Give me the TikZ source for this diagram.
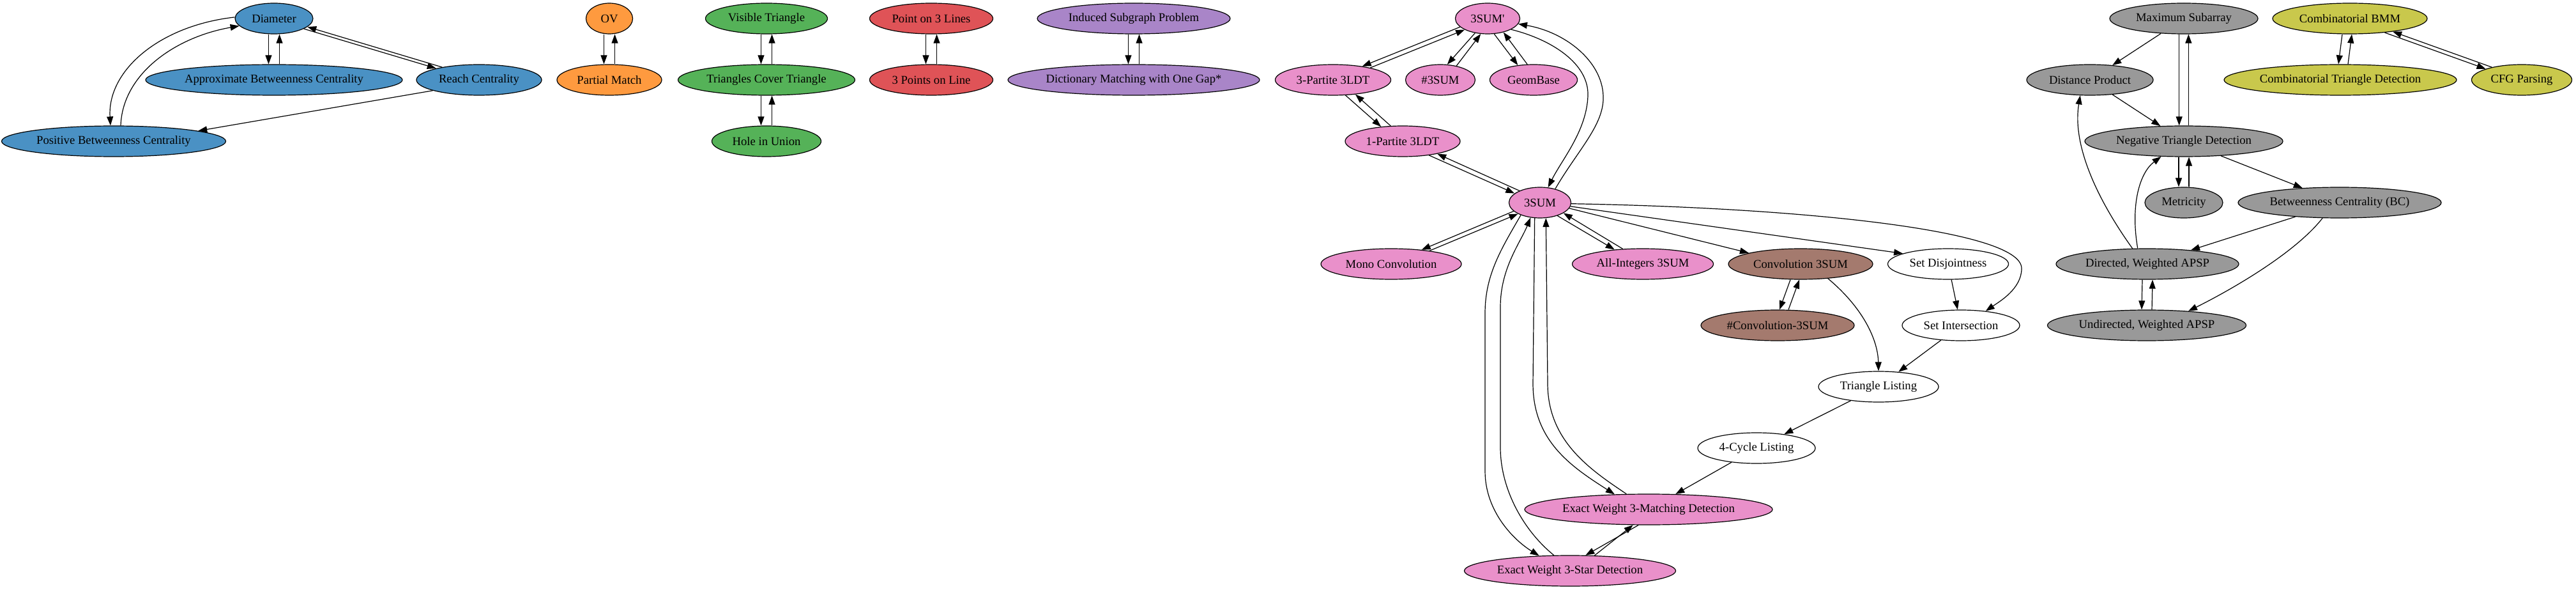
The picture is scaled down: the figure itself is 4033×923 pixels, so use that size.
\documentclass[tikz,border=0pt]{standalone}
\usepackage{fontspec}
\newfontfamily\gvf{Liberation Serif}
\usetikzlibrary{arrows.meta,shapes.geometric}
\definecolor{cblue}{HTML}{4A91C4}
\definecolor{corange}{HTML}{FE9A3F}
\definecolor{cgreen}{HTML}{55B258}
\definecolor{cred}{HTML}{DF5357}
\definecolor{cpurple}{HTML}{A985C8}
\definecolor{cpink}{HTML}{E990CA}
\definecolor{cbrown}{HTML}{A47A6E}
\definecolor{cgray}{HTML}{999999}
\definecolor{cyellow}{HTML}{C9C84C}
\begin{document}
\begin{tikzpicture}[x=0.75pt,y=-0.75pt,
  gv/.style={ellipse, draw=black, line width=0.9pt, minimum height=36pt, inner sep=0pt,
             minimum width=#1, font=\gvf\fontsize{14pt}{17pt}\selectfont},
  edge/.style={draw=black, line width=0.9pt, -{Triangle[length=10.5pt,width=7.5pt]}}]
\useasboundingbox (0,0) rectangle (4033,923);

% ---------- blue ----------
\node[gv=91.5pt,  fill=cblue] (dia)   at (429,29)  {Diameter};
\node[gv=301.5pt, fill=cblue] (abc)   at (429,125) {Approximate Betweenness Centrality};
\node[gv=147pt,   fill=cblue] (reach) at (750,125) {Reach Centrality};
\node[gv=263.25pt,fill=cblue] (pbc)   at (178,221) {Positive Betweenness Centrality};
% ---------- orange ----------
\node[gv=54.75pt, fill=corange] (ov) at (954,29)  {OV};
\node[gv=123pt,   fill=corange] (pm) at (954,125) {Partial Match};
% ---------- green ----------
\node[gv=143.25pt,fill=cgreen] (vt)  at (1200,29)  {Visible Triangle};
\node[gv=207.75pt,fill=cgreen] (tct) at (1200,125) {Triangles Cover Triangle};
\node[gv=128.25pt,fill=cgreen] (hiu) at (1200,221) {Hole in Union};
% ---------- red ----------
\node[gv=144.75pt,fill=cred] (ptl) at (1458,29)  {Point on 3 Lines};
\node[gv=144.75pt,fill=cred] (tpl) at (1458,125) {3 Points on Line};
% ---------- purple ----------
\node[gv=226.5pt, fill=cpurple] (isp) at (1775,29)  {Induced Subgraph Problem};
\node[gv=295.5pt, fill=cpurple] (dm)  at (1775,125) {Dictionary Matching with One Gap*};
% ---------- pink ----------
\node[gv=75.75pt, fill=cpink] (s3p) at (2329,29)  {3SUM'};
\node[gv=135.75pt,fill=cpink] (tp)  at (2087,125) {3-Partite 3LDT};
\node[gv=81.75pt, fill=cpink] (ns)  at (2255,125) {\#3SUM};
\node[gv=102.75pt,fill=cpink] (gb)  at (2401,125) {GeomBase};
\node[gv=135pt,   fill=cpink] (op)  at (2196,221) {1-Partite 3LDT};
\node[gv=72.75pt, fill=cpink] (s3)  at (2411,317) {3SUM};
\node[gv=165pt,   fill=cpink] (mc)  at (2178,413) {Mono Convolution};
\node[gv=165.75pt,fill=cpink] (ai)  at (2572,413) {All-Integers 3SUM};
\node[gv=291pt,   fill=cpink] (em)  at (2581,797) {Exact Weight 3-Matching Detection};
\node[gv=248.25pt,fill=cpink] (es)  at (2458,893) {Exact Weight 3-Star Detection};
% ---------- brown ----------
\node[gv=169.5pt, fill=cbrown] (c3) at (2819,413) {Convolution 3SUM};
\node[gv=180pt,   fill=cbrown] (nc) at (2783,509) {\#Convolution-3SUM};
% ---------- white ----------
\node[gv=141.75pt,fill=white] (sd) at (3050,413) {Set Disjointness};
\node[gv=138pt,   fill=white] (si) at (3070,509) {Set Intersection};
\node[gv=141pt,   fill=white] (tl) at (2941,605) {Triangle Listing};
\node[gv=138pt,   fill=white] (cl) at (2750,701) {4-Cycle Listing};
% ---------- gray ----------
\node[gv=174pt,   fill=cgray] (ms)    at (3419,29)  {Maximum Subarray};
\node[gv=148.5pt, fill=cgray] (dp)    at (3272,125) {Distance Product};
\node[gv=232.5pt, fill=cgray] (ntd)   at (3419,221) {Negative Triangle Detection};
\node[gv=91.5pt,  fill=cgray] (met)   at (3419,317) {Metricity};
\node[gv=238.5pt, fill=cgray] (bc)    at (3663,317) {Betweenness Centrality (BC)};
\node[gv=214.5pt, fill=cgray] (dapsp) at (3362,413) {Directed, Weighted APSP};
\node[gv=233.25pt,fill=cgray] (uapsp) at (3361,509) {Undirected, Weighted APSP};
% ---------- yellow ----------
\node[gv=181.5pt, fill=cyellow] (bmm) at (3679,29)  {Combinatorial BMM};
\node[gv=273pt,   fill=cyellow] (ctd) at (3664,125) {Combinatorial Triangle Detection};
\node[gv=117.75pt,fill=cyellow] (cfg) at (3948,125) {CFG Parsing};

% ================= edges =================
% blue
\draw[edge] ([xshift=-6.4pt]dia.south) -- ([xshift=-6.4pt]abc.north);
\draw[edge] ([xshift=6.4pt]abc.north) -- ([xshift=6.4pt]dia.south);
\draw[edge] (dia.-19.6) -- (reach.165.4);
\draw[edge] (reach.161) -- (dia.-14);
\draw[edge] (dia.178) .. controls (250,40) and (168,110) .. ([xshift=-3.75pt]pbc.north);
\draw[edge] ([xshift=8.25pt]pbc.north) .. controls (192,115) and (275,58) .. (dia.192);
\draw[edge] (reach.193) -- (pbc.7.3);
% orange, green, red, purple
\draw[edge] ([xshift=-6.4pt]ov.south) -- ([xshift=-6.4pt]pm.north);
\draw[edge] ([xshift=6.4pt]pm.north) -- ([xshift=6.4pt]ov.south);
\draw[edge] ([xshift=-6.4pt]vt.south) -- ([xshift=-6.4pt]tct.north);
\draw[edge] ([xshift=6.4pt]tct.north) -- ([xshift=6.4pt]vt.south);
\draw[edge] ([xshift=-6.4pt]tct.south) -- ([xshift=-6.4pt]hiu.north);
\draw[edge] ([xshift=6.4pt]hiu.north) -- ([xshift=6.4pt]tct.south);
\draw[edge] ([xshift=-6.4pt]ptl.south) -- ([xshift=-6.4pt]tpl.north);
\draw[edge] ([xshift=6.4pt]tpl.north) -- ([xshift=6.4pt]ptl.south);
\draw[edge] ([xshift=-6.4pt]isp.south) -- ([xshift=-6.4pt]dm.north);
\draw[edge] ([xshift=6.4pt]dm.north) -- ([xshift=6.4pt]isp.south);
% pink
\draw[edge] (s3p.197.6) -- (tp.25.3);
\draw[edge] (tp.18.6) -- (s3p.206.2);
\draw[edge] (s3p.229) -- (ns.66.7);
\draw[edge] (ns.41.2) -- (s3p.246.7);
\draw[edge] (s3p.-67.7) -- (gb.137.9);
\draw[edge] (gb.112.4) -- (s3p.-41.6);
\draw[edge] (tp.-51.5) -- (op.146.2);
\draw[edge] (op.128.5) -- (tp.-33.8);
\draw[edge] (op.-28.2) -- (s3.160.4);
\draw[edge] (s3.150.9) -- (op.-20.7);
\draw[edge] (s3.198.3) -- (mc.25.9);
\draw[edge] (mc.19.5) -- (s3.207);
\draw[edge] (s3.-37.9) -- (ai.153.9);
\draw[edge] (ai.143.1) -- (s3.-24.8);
\draw[edge] (s3.42) .. controls (2470,235) and (2512,195) .. (2510,150)
            .. controls (2508,95) and (2450,50) .. (s3p.-10);
\draw[edge] (s3p.-25) .. controls (2430,62) and (2488,100) .. (2486,150)
            .. controls (2484,205) and (2445,250) .. (s3.62);
\draw[edge] (s3.251.3) -- (2400,600) .. controls (2400,690) and (2460,730) .. (em.156.9);
\draw[edge] (em.145.2) .. controls (2490,735) and (2423,690) .. (2423,600) -- (s3.-69.1);
\draw[edge] (s3.213.5) .. controls (2350,390) and (2325,430) .. (2325,490) -- (2325,737)
            .. controls (2325,800) and (2370,845) .. (es.154.4);
\draw[edge] (es.136.5) .. controls (2385,830) and (2349,765) .. (2349,700) -- (2349,480)
            .. controls (2349,420) and (2380,380) .. (s3.238.6);
\draw[edge] (em.237.6) -- (es.45.4);
\draw[edge] (es.32.3) -- (em.225.4);
\draw[edge] (s3.-11) -- (c3.168);
\draw[edge] (s3.-7) -- (sd.167.5);
\draw[edge] (s3.-2) .. controls (2820,325) and (3165,360) .. (3165,420)
            .. controls (3165,452) and (3130,472) .. (si.30.7);
% brown / white
\draw[edge] ([xshift=-12pt]c3.south) -- ([xshift=2.25pt]nc.north);
\draw[edge] ([xshift=12.75pt]nc.north) -- ([xshift=-1.5pt]c3.south);
\draw[edge] (c3.-28) .. controls (2915,480) and (2940,530) .. (tl.north);
\draw[edge] (sd) -- (si);
\draw[edge] (si) -- (tl);
\draw[edge] (tl) -- (cl);
\draw[edge] (cl) -- (em);
% gray
\draw[edge] (ms) -- (dp);
\draw[edge] ([xshift=-5.5pt]ms.south) -- ([xshift=-5.5pt]ntd.north);
\draw[edge] ([xshift=5.5pt]ntd.north) -- ([xshift=5.5pt]ms.south);
\draw[edge] (dp) -- (ntd);
\draw[edge] ([xshift=-6pt]ntd.south) -- ([xshift=-6pt]met.north);
\draw[edge] ([xshift=6pt]met.north) -- ([xshift=6pt]ntd.south);
\draw[edge] (ntd) -- (bc);
\draw[edge] (bc) -- (dapsp);
\draw[edge] (bc.222.3) .. controls (3590,400) and (3480,460) .. (uapsp.19.5);
\draw[edge] (dapsp.134.1) .. controls (3275,300) and (3245,220) .. (dp.-122.3);
\draw[edge] (dapsp.122.1) .. controls (3335,320) and (3350,270) .. (ntd.-146.2);
\draw[edge] ([xshift=-6pt]dapsp.south) -- ([xshift=-6pt]uapsp.north);
\draw[edge] ([xshift=6pt]uapsp.north) -- ([xshift=6pt]dapsp.south);
% yellow
\draw[edge] ([xshift=-9pt]bmm.south) -- ([xshift=-2.25pt]ctd.north);
\draw[edge] ([xshift=9pt]ctd.north) -- ([xshift=2.25pt]bmm.south);
\draw[edge] (bmm.-22.3) -- (cfg.163);
\draw[edge] (cfg.157.3) -- (bmm.-17.4);
\end{tikzpicture}
\end{document}
